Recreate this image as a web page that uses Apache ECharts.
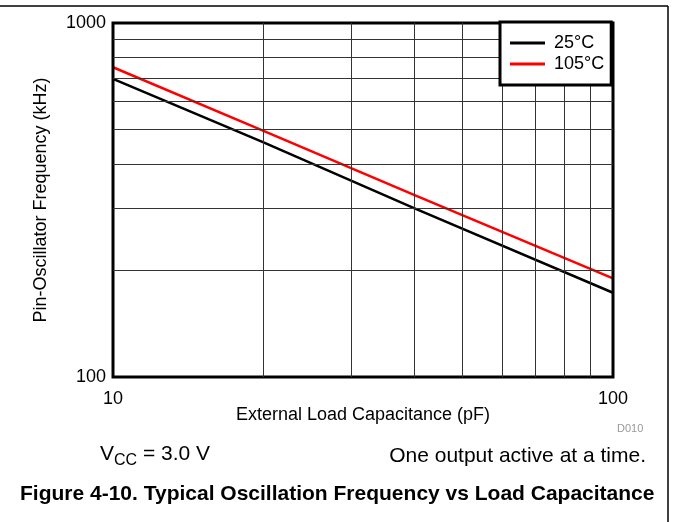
<!DOCTYPE html>
<html>
<head>
<meta charset="utf-8">
<script src="https://cdn.jsdelivr.net/npm/echarts@6/dist/echarts.min.js"></script>
<style>
html,body{margin:0;padding:0;background:#fff;}
#c{width:673px;height:522px;}
</style>
</head>
<body>
<div id="c"></div>
<script>
// Data
var capacitance = [10, 20, 40, 100];          // pF
var freq25 = [695, 460, 300, 173];             // kHz, 25°C
var freq105 = [750, 496, 327, 190];            // kHz, 105°C
var xGrid = [20, 30, 40, 50, 60, 70, 80, 90];
var yGrid = [200, 300, 400, 500, 600, 700, 800, 900];
var seriesNames = ['25\u00B0C', '105\u00B0C'];

var FONT = '"Liberation Sans", Arial, sans-serif';

function pairs(xs, ys) { return xs.map(function (x, i) { return [x, ys[i]]; }); }

var chart = echarts.init(document.getElementById('c'), null, { renderer: 'canvas' });

var gridMarks = xGrid.map(function (v) { return { xAxis: v }; })
  .concat(yGrid.map(function (v) { return { yAxis: v }; }));

chart.setOption({
  animation: false,
  backgroundColor: '#fff',
  grid: { left: 113, top: 23, width: 500, height: 354, show: true, borderColor: '#000', borderWidth: 3, backgroundColor: 'transparent', z: 5 },
  xAxis: {
    type: 'log', logBase: 10, min: 10, max: 100,
    name: 'External Load Capacitance (pF)', nameLocation: 'middle', nameGap: 29,
    nameMoveOverlap: false,
    nameTextStyle: { fontFamily: FONT, fontSize: 18, color: '#000' },
    axisLine: { show: false }, axisTick: { show: false }, splitLine: { show: false },
    axisLabel: { fontFamily: FONT, fontSize: 18, color: '#000', margin: 13, formatter: function (v) { return String(v); } }
  },
  yAxis: {
    type: 'log', logBase: 10, min: 100, max: 1000,
    name: 'Pin-Oscillator Frequency (kHz)', nameLocation: 'middle', nameGap: 63,
    nameMoveOverlap: false,
    nameTextStyle: { fontFamily: FONT, fontSize: 18, color: '#000' },
    axisLine: { show: false }, axisTick: { show: false }, splitLine: { show: false },
    axisLabel: { fontFamily: FONT, fontSize: 18, color: '#000', margin: 7, formatter: function (v) { return String(v); } }
  },
  legend: {
    orient: 'vertical', left: 500, top: 22,
    padding: [11, 7, 11, 10], itemGap: 1,
    itemWidth: 35, itemHeight: 3, icon: 'rect',
    backgroundColor: '#fff', borderColor: '#000', borderWidth: 3,
    textStyle: { fontFamily: FONT, fontSize: 18, color: '#000', lineHeight: 20, padding: [0, 0, 0, 4] },
    data: seriesNames, z: 10
  },
  series: [
    {
      type: 'line', name: '__grid', data: [], silent: true, z: 1,
      markLine: {
        silent: true, symbol: 'none', animation: false,
        label: { show: false },
        lineStyle: { color: '#333', width: 1, type: 'solid' },
        emphasis: { disabled: true },
        data: gridMarks
      }
    },
    {
      type: 'line', name: seriesNames[0], data: pairs(capacitance, freq25),
      showSymbol: false, symbol: 'none', z: 3,
      lineStyle: { color: '#000', width: 2.5 }, itemStyle: { color: '#000' }
    },
    {
      type: 'line', name: seriesNames[1], data: pairs(capacitance, freq105),
      showSymbol: false, symbol: 'none', z: 3,
      lineStyle: { color: '#ff0000', width: 2.5 }, itemStyle: { color: '#ff0000' }
    }
  ],
  graphic: [
    { type: 'line', shape: { x1: 0, y1: 6, x2: 668, y2: 6 }, style: { stroke: '#000', lineWidth: 1.5 } },
    { type: 'line', shape: { x1: 668, y1: 6, x2: 668, y2: 522 }, style: { stroke: '#000', lineWidth: 1.5 } },
    { type: 'text', left: 617, top: 423, style: { text: 'D010', font: '11px ' + FONT, fill: '#999' } },
    { type: 'text', left: 100, top: 444, style: {
        text: '{a|V}{b|CC}{a| = 3.0 V}',
        rich: { a: { fontFamily: FONT, fontSize: 21, fill: '#000', verticalAlign: 'bottom', padding: [0, 0, 4, 0] },
                b: { fontFamily: FONT, fontSize: 16, fill: '#000', verticalAlign: 'bottom' } }
      } },
    { type: 'text', right: 27, top: 446, style: { text: 'One output active at a time.', font: '21px ' + FONT, fill: '#000' } },
    { type: 'text', left: 20, top: 484, style: { text: 'Figure 4-10. Typical Oscillation Frequency vs Load Capacitance', font: 'bold 21px ' + FONT, fill: '#000' } }
  ]
});
</script>
</body>
</html>
